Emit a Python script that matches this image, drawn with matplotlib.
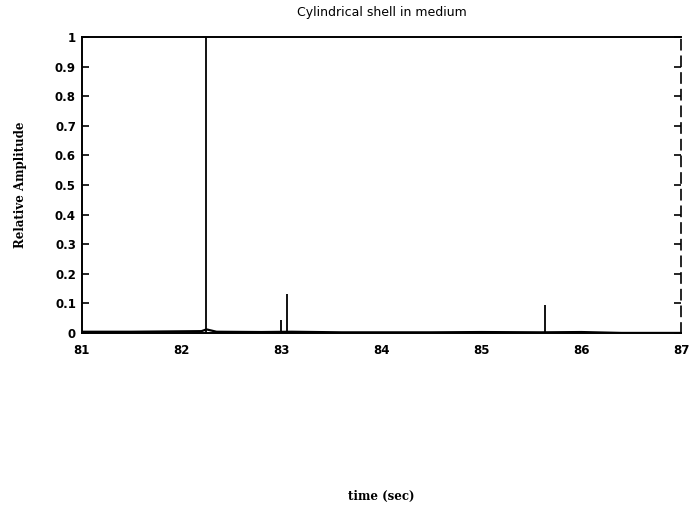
import numpy as np
import matplotlib.pyplot as plt

# Picos do sinal (tempo em s, amplitude relativa)
spike_times = [82.25, 83.0, 83.06, 85.64]
spike_heights = [1.0, 0.045, 0.13, 0.095]

# Linha de base (quase zero)
base_times = [81.0, 81.5, 82.2, 82.25, 82.35, 82.8, 83.1, 83.6, 84.0, 84.5, 85.0, 85.6, 86.0, 86.4, 87.0]
base_values = [0.004, 0.004, 0.006, 0.012, 0.004, 0.003, 0.004, 0.002, 0.002, 0.002, 0.003, 0.002, 0.003, 0.0, 0.0]

x_ticks = [81, 82, 83, 84, 85, 86, 87]
y_ticks = [0, 0.1, 0.2, 0.3, 0.4, 0.5, 0.6, 0.7, 0.8, 0.9, 1]
y_labels = ['0', '0.1', '0.2', '0.3', '0.4', '0.5', '0.6', '0.7', '0.8', '0.9', '1']

fig = plt.figure(figsize=(6.91, 5.13), dpi=100)
ax = fig.add_axes([0.118, 0.351, 0.868, 0.577])

ax.plot(base_times, base_values, color='black', lw=1.6)
ax.vlines(spike_times, 0, spike_heights, colors='black', lw=1.3)

ax.set_xlim(81, 87)
ax.set_ylim(0, 1)
ax.set_xticks(x_ticks)
ax.set_xticklabels([str(t) for t in x_ticks])
ax.set_yticks(y_ticks)
ax.set_yticklabels(y_labels)
ax.tick_params(direction='in', length=5, width=1.2, labelsize=8.5, right=True, top=False, pad=4)
ax.tick_params(axis='x', length=0, pad=8)
for lab in ax.get_xticklabels() + ax.get_yticklabels():
    lab.set_fontweight('bold')

for s in ['left', 'bottom', 'top']:
    ax.spines[s].set_linewidth(1.4)
ax.spines['right'].set_linewidth(1.2)
ax.spines['right'].set_linestyle((0, (6, 4)))

ax.set_title('Cylindrical shell in medium', fontsize=9, pad=15)
ax.set_ylabel('Relative Amplitude', fontsize=8.5, fontweight='bold', family='DejaVu Serif', labelpad=20)
ax.set_xlabel('time (sec)', fontsize=8.5, fontweight='bold', family='DejaVu Serif', labelpad=96)

fig.savefig('out.png', dpi=100)
